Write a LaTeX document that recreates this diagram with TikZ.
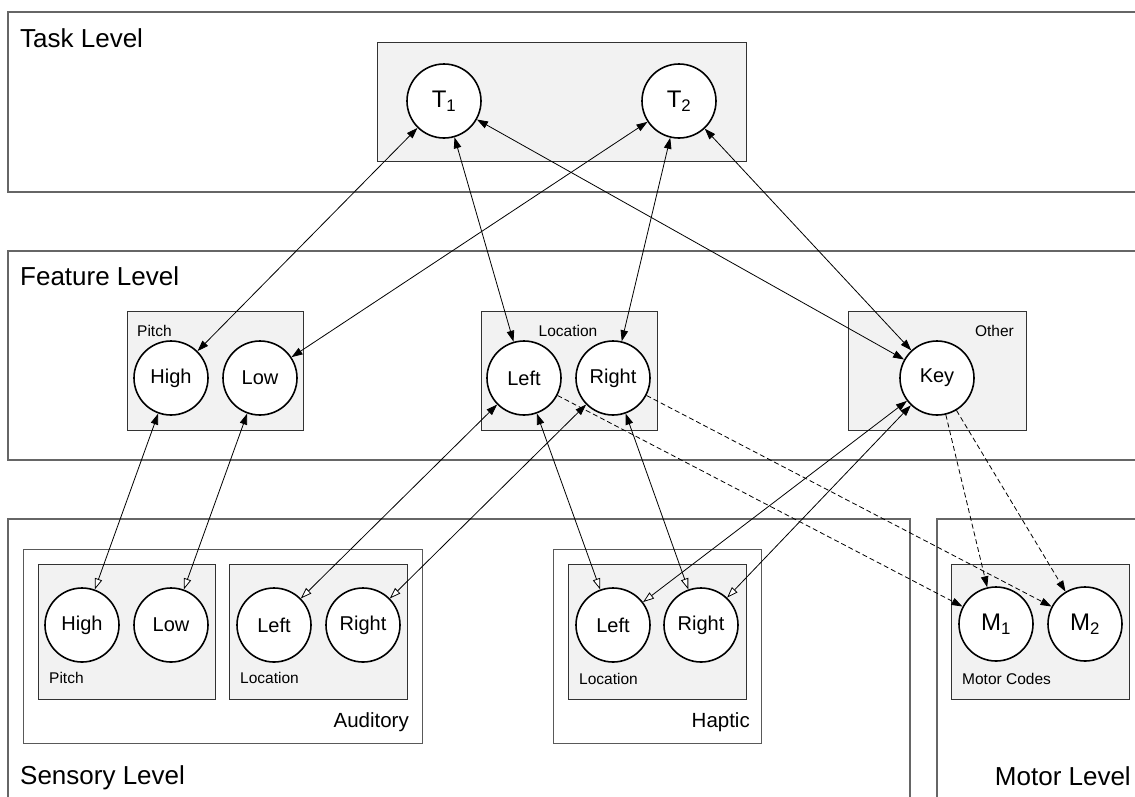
\documentclass[tikz,border=0pt]{standalone}
\usepackage{fontspec}
\setmainfont{Liberation Sans}
\usetikzlibrary{arrows.meta}

\tikzset{
  levelbox/.style={draw=black!60, line width=1.2pt},
  outerbox/.style={draw=black!65, line width=1pt, fill=white},
  groupbox/.style={draw=black!80, line width=1pt, fill=black!5},
  unit/.style={circle, draw=black, line width=1.6pt, fill=white,
    minimum size=74pt, inner sep=0pt, font=\fontsize{20}{22}\selectfont},
  bigunit/.style={unit, font=\fontsize{24}{26}\selectfont},
  levellabel/.style={font=\fontsize{26}{30}\selectfont, inner sep=0pt},
  grouplabel/.style={font=\fontsize{20.5}{24}\selectfont, inner sep=0pt},
  smalllabel/.style={font=\fontsize{15.5}{18}\selectfont, inner sep=0pt},
  link/.style={line width=0.8pt, draw=black},
  fulltip/.tip={Triangle[length=11pt,width=7.5pt]},
  opentip/.tip={Triangle[length=11pt,width=7.5pt,fill=white]},
  both/.style={link, fulltip-fulltip},
  down/.style={link, fulltip-opentip},
  motorlink/.style={link, dash pattern=on 5pt off 3pt, -fulltip},
}

\begin{document}
\begin{tikzpicture}[x=1pt, y=-1pt]
  \useasboundingbox (0,0) rectangle (1135,796);
  \clip (0,0) rectangle (1135,796);
  \fill[white] (0,0) rectangle (1135,796);

  % levels
  \draw[levelbox] (8,12) rectangle (1150,192);
  \draw[levelbox] (8,251) rectangle (1150,460);
  \draw[levelbox] (8,519) rectangle (910,820);
  \draw[levelbox] (937,519) rectangle (1150,820);

  \node[levellabel, anchor=base west] (lTask) at (20,47) {Task Level};
  \node[levellabel, anchor=base west] (lFeature) at (20,285) {Feature Level};
  \node[levellabel, anchor=base west] (lSensory) at (20,784) {Sensory Level};
  \node[levellabel, anchor=base east] (lMotor) at (1131,785) {Motor Level};

  % task level
  \draw[groupbox] (377,42) rectangle (746,161);
  \node[bigunit] (T1) at (444,101) {T\textsubscript{1}};
  \node[bigunit] (T2) at (679,101) {T\textsubscript{2}};

  % feature level
  \draw[groupbox] (127,311) rectangle (303,430);
  \draw[groupbox] (481,311) rectangle (657,430);
  \draw[groupbox] (848,311) rectangle (1026,430);
  \node[smalllabel, anchor=base west] (gfPitch) at (137,336) {Pitch};
  \node[smalllabel, anchor=base] (gfLoc) at (568,336) {Location};
  \node[smalllabel, anchor=base east] (gfOther) at (1014,336) {Other};
  \node[unit] (fHigh) at (171,378) {High};
  \node[unit] (fLow) at (260,378) {Low};
  \node[unit] (fLeft) at (524,378) {Left};
  \node[unit] (fRight) at (613,378) {Right};
  \node[unit] (fKey) at (937,378) {Key};

  % sensory level: auditory
  \draw[outerbox] (23,549) rectangle (422,743);
  \draw[groupbox] (38,564) rectangle (215,699);
  \draw[groupbox] (229,564) rectangle (407,699);
  \node[grouplabel, anchor=base east] (gAud) at (409,727) {Auditory};
  \node[smalllabel, anchor=base west] (gsPitch) at (49,683) {Pitch};
  \node[smalllabel, anchor=base west] (gaLoc) at (240,683) {Location};
  \node[unit] (sHigh) at (82,625) {High};
  \node[unit] (sLow) at (171,625) {Low};
  \node[unit] (aLeft) at (274,625) {Left};
  \node[unit] (aRight) at (363,625) {Right};

  % sensory level: haptic
  \draw[outerbox] (553,549) rectangle (761,743);
  \draw[groupbox] (568,564) rectangle (746,699);
  \node[grouplabel, anchor=base east] (gHap) at (750,727) {Haptic};
  \node[smalllabel, anchor=base west] (ghLoc) at (579,684) {Location};
  \node[unit] (hLeft) at (613,625) {Left};
  \node[unit] (hRight) at (701,625) {Right};

  % motor level
  \draw[groupbox] (951,564) rectangle (1129,699);
  \node[smalllabel, anchor=base west] (gMotor) at (962,684) {Motor Codes};
  \node[bigunit] (M1) at (996,624) {M\textsubscript{1}};
  \node[bigunit] (M2) at (1085,624) {M\textsubscript{2}};

  % task <-> feature
  \draw[both] (T1) -- (fHigh);
  \draw[both] (T1) -- (fLeft);
  \draw[both] (T1) -- (fKey);
  \draw[both] (T2) -- (fLow);
  \draw[both] (T2) -- (fRight);
  \draw[both] (T2) -- (fKey);

  % feature <-> sensory
  \draw[down] (fHigh) -- (sHigh);
  \draw[down] (fLow) -- (sLow);
  \draw[down] (fLeft) -- (aLeft);
  \draw[down] (fRight) -- (aRight);
  \draw[down] (fLeft) -- (hLeft);
  \draw[down] (fRight) -- (hRight);
  \draw[down] (fKey) -- (hLeft);
  \draw[down] (fKey) -- (hRight);

  % feature -> motor
  \draw[motorlink] (fLeft) -- (M1);
  \draw[motorlink] (fRight) -- (M2);
  \draw[motorlink] (fKey) -- (M1);
  \draw[motorlink] (fKey) -- (M2);
\end{tikzpicture}
\end{document}
